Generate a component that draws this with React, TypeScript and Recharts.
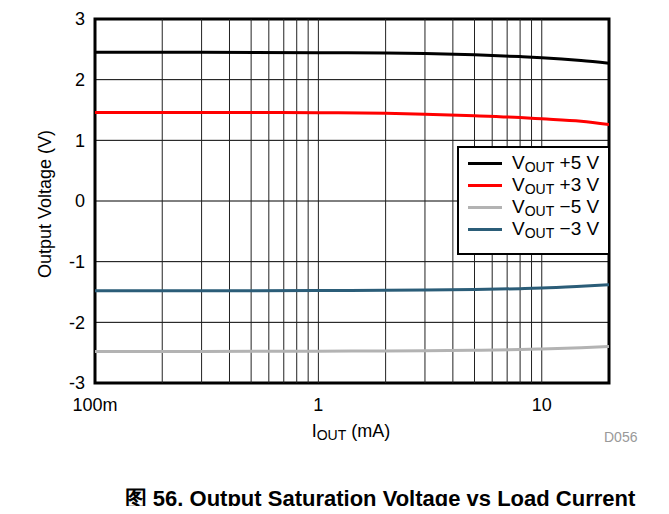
import {
  LineChart, Line, XAxis, YAxis, CartesianGrid,
  ReferenceLine, ReferenceArea, Legend,
} from 'recharts'

// Load current in mA (log axis)
const currents = [0.1, 0.3, 1, 2, 3, 5, 8, 10, 15, 20]
const vPos5 = [2.45, 2.45, 2.445, 2.44, 2.43, 2.41, 2.38, 2.362, 2.315, 2.27]
const vPos3 = [1.46, 1.46, 1.455, 1.445, 1.43, 1.405, 1.375, 1.355, 1.315, 1.26]
const vNeg5 = [-2.48, -2.48, -2.475, -2.472, -2.47, -2.46, -2.447, -2.44, -2.42, -2.4]
const vNeg3 = [-1.48, -1.48, -1.475, -1.472, -1.468, -1.46, -1.445, -1.435, -1.405, -1.38]

const xTicks = [0.1, 1, 10]
const yTicks = [-3, -2, -1, 0, 1, 2, 3]
const gridX = [0.2, 0.3, 0.4, 0.5, 0.6, 0.7, 0.8, 0.9, 1, 2, 3, 4, 5, 6, 7, 8, 9, 10]

const series = [
  { key: 'p5', label: '+5 V', color: '#000000' },
  { key: 'p3', label: '+3 V', color: '#ff0000' },
  { key: 'n5', label: '\u22125 V', color: '#b3b3b3' },
  { key: 'n3', label: '\u22123 V', color: '#2b5d78' },
]

const data = currents.map((x, i) => ({
  x, p5: vPos5[i], p3: vPos3[i], n5: vNeg5[i], n3: vNeg3[i],
}))

const font = '"Liberation Sans", Arial, sans-serif'

function LegendBox() {
  return (
    <div style={{
      width: 153, height: 109, border: '2.5px solid #000', background: '#fff',
      boxSizing: 'border-box', padding: '4px 0 0 9px', fontFamily: font,
    }}>
      {series.map(s => (
        <div key={s.key} style={{ display: 'flex', alignItems: 'center', height: 22, lineHeight: '22px' }}>
          <span style={{ width: 34, height: 3, background: s.color, marginRight: 10, flex: 'none' }} />
          <span style={{ fontSize: 19, color: '#000', whiteSpace: 'nowrap' }}>
            V<span style={{ fontSize: 14, position: 'relative', top: 3 }}>OUT</span> {s.label}
          </span>
        </div>
      ))}
    </div>
  )
}

export default function App() {
  return (
    <div style={{ position: 'relative', width: 669, height: 514, margin: -8, background: '#fff', fontFamily: font, overflow: 'hidden' }}>
      <div style={{ position: 'absolute', left: 0, top: 3, width: 669, height: 1.5, background: '#000' }} />
      <LineChart width={669} height={514} data={data} margin={{ top: 19, right: 60, left: 0, bottom: 0 }}>
        <CartesianGrid vertical={false} stroke="#000" strokeWidth={1} />
        {gridX.map(v => (
          <ReferenceLine key={v} x={v} stroke="#222" strokeWidth={1} />
        ))}
        <XAxis
          dataKey="x"
          type="number"
          scale="log"
          domain={[0.1, 20]}
          ticks={xTicks}
          tickFormatter={(v: number) => (v === 0.1 ? '100m' : String(v))}
          allowDataOverflow
          height={131}
          axisLine={false}
          tickLine={false}
          tickMargin={9}
          tick={{ fontSize: 18, fill: '#000', fontFamily: font }}
        />
        <YAxis
          type="number"
          domain={[-3, 3]}
          ticks={yTicks}
          width={95}
          axisLine={false}
          tickLine={false}
          tickMargin={4}
          tick={{ fontSize: 18, fill: '#000', fontFamily: font }}
        />
        {series.map(s => (
          <Line
            key={s.key}
            dataKey={s.key}
            type="monotone"
            stroke={s.color}
            strokeWidth={3}
            dot={false}
            isAnimationActive={false}
          />
        ))}
        <ReferenceArea x1={0.1} x2={20} y1={-3} y2={3} fill="none" stroke="#000" strokeWidth={3} />
        <Legend
          layout="vertical"
          align="center"
          verticalAlign="middle"
          content={<LegendBox />}
          wrapperStyle={{ left: 457, top: 146, width: 153 }}
        />
      </LineChart>
      <div style={{
        position: 'absolute', left: 45, top: 204, transform: 'translate(-50%, -50%) rotate(-90deg)',
        fontSize: 18, lineHeight: 1, whiteSpace: 'nowrap', color: '#000',
      }}>Output Voltage (V)</div>
      <div style={{ position: 'absolute', left: 351, top: 421, transform: 'translateX(-50%)', fontSize: 18, lineHeight: '20px', whiteSpace: 'nowrap' }}>
        I<span style={{ fontSize: 14, position: 'relative', top: 3 }}>OUT</span> (mA)
      </div>
      <div style={{ position: 'absolute', left: 604, top: 430, fontSize: 14, lineHeight: 1, color: '#999' }}>D056</div>
      <div style={{
        position: 'absolute', left: 380, top: 488, transform: 'translateX(-50%)',
        fontSize: 22, lineHeight: 1, fontWeight: 'bold', whiteSpace: 'nowrap',
      }}>图 56. Output Saturation Voltage vs Load Current</div>
    </div>
  )
}
